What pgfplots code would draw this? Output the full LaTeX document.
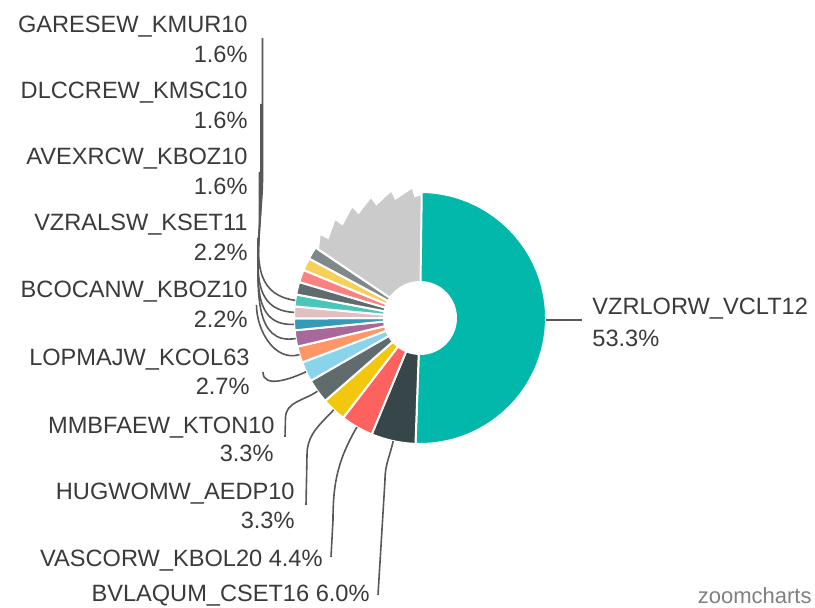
\documentclass[border=0pt]{standalone}
\usepackage{fontspec}
\setmainfont{Liberation Sans}
\usepackage{pgfplots}
\pgfplotsset{compat=1.18}
\usepackage{pgfplotstable}

\definecolor{c0}{HTML}{01B8AA}
\definecolor{c1}{HTML}{374649}
\definecolor{c2}{HTML}{FD625E}
\definecolor{c3}{HTML}{F2C80F}
\definecolor{c4}{HTML}{5F6B6D}
\definecolor{c5}{HTML}{8AD4EB}
\definecolor{c6}{HTML}{FE9666}
\definecolor{c7}{HTML}{A66999}
\definecolor{c8}{HTML}{3599B8}
\definecolor{c9}{HTML}{DFBFBF}
\definecolor{c10}{HTML}{4AC5BB}
\definecolor{c11}{HTML}{5F6B6D}
\definecolor{c12}{HTML}{FB8281}
\definecolor{c13}{HTML}{F4D25A}
\definecolor{c14}{HTML}{7F898A}
\definecolor{c15}{HTML}{CBCBCB}
\definecolor{txt}{HTML}{3A3A3A}
\definecolor{ln}{HTML}{585858}

% slice shares (percent), clockwise from 12 o'clock
\pgfplotstableread{
id pct
0 53.3
1 6.0
2 4.4
3 3.3
4 3.3
5 2.7
6 2.2
7 2.2
8 1.6
9 1.6
10 1.6
11 1.7
12 1.7
13 1.7
14 1.7
15 16.4
}\piedata

\pgfmathsetmacro\tot{0}
\pgfplotsforeachungrouped \i in {0,...,15}{%
  \pgfplotstablegetelem{\i}{pct}\of\piedata
  \pgfmathsetmacro\tot{\tot+\pgfplotsretval}%
}
\pgfmathsetmacro\cur{90}
\pgfplotsforeachungrouped \i in {0,...,15}{%
  \pgfplotstablegetelem{\i}{pct}\of\piedata
  \pgfmathsetmacro\nxt{\cur-\pgfplotsretval/\tot*360}%
  \pgfmathsetmacro\mda{(\cur+\nxt)/2}%
  \expandafter\xdef\csname sa\i\endcsname{\cur}%
  \expandafter\xdef\csname ea\i\endcsname{\nxt}%
  \expandafter\xdef\csname ma\i\endcsname{\mda}%
  \let\cur\nxt
}
\newcommand\SA[1]{\csname sa#1\endcsname}
\newcommand\EA[1]{\csname ea#1\endcsname}
\newcommand\MA[1]{\csname ma#1\endcsname}
\xdef\osa{\csname sa15\endcsname}
\xdef\oea{\csname ea15\endcsname}
\pgfmathsetmacro\ow{(\osa-\oea)/6}
\newcommand\lab{\fontsize{11.8}{14}\selectfont}

\begin{document}
\begin{tikzpicture}
\begin{axis}[hide axis, scale only axis, width=407.5pt, height=304pt,
  xmin=0, xmax=815, ymin=0, ymax=608, clip=false]
% slices
\pgfplotsinvokeforeach{0,...,14}{%
  \filldraw[fill=c#1, draw=white, line width=1pt]
    ([shift={(\SA{#1}:63pt)}]axis cs:420,290) arc[start angle=\SA{#1}, end angle=\EA{#1}, radius=63pt]
    -- ([shift={(\EA{#1}:18pt)}]axis cs:420,290) arc[start angle=\EA{#1}, end angle=\SA{#1}, radius=18pt] -- cycle;
}
% others slice with saw-tooth edge
\filldraw[fill=c15, draw=white, line width=1pt]
  ([shift={(\osa:18pt)}]axis cs:420,290) -- ([shift={(\osa:61.5pt)}]axis cs:420,290)
  \foreach \k in {0,...,5}{ -- ([shift={({\osa-\ow*(\k+0.65)}:65.5pt)}]axis cs:420,290)
                             -- ([shift={({\osa-\ow*(\k+0.65)-1}:61pt)}]axis cs:420,290) }
  -- ([shift={(\oea-0.8:62pt)}]axis cs:420,290) -- ([shift={(\oea-0.8:18pt)}]axis cs:420,290)
  arc[start angle=\oea-0.8, end angle=\osa, radius=18pt] -- cycle;

% leader lines
\begin{scope}[draw=ln, line width=0.8pt]
\draw (axis cs:262.5,570) -- (axis cs:262.5,430) to[out=-90, in=\MA{10}, looseness=1.1] ([shift={(\MA{10}:63pt)}]axis cs:420,290);
\draw (axis cs:261,504) -- (axis cs:261,410) to[out=-90, in=\MA{9}, looseness=1.1] ([shift={(\MA{9}:63pt)}]axis cs:420,290);
\draw (axis cs:259.5,436) -- (axis cs:259.5,388) to[out=-90, in=\MA{8}, looseness=1.1] ([shift={(\MA{8}:63pt)}]axis cs:420,290);
\draw (axis cs:258,370) -- (axis cs:258,360) to[out=-90, in=\MA{7}, looseness=1.1] ([shift={(\MA{7}:63pt)}]axis cs:420,290);
\draw (axis cs:256.5,303) to[out=-90, in=\MA{6}] ([shift={(\MA{6}:63pt)}]axis cs:420,290);
\draw (axis cs:263,236) to[out=-90, in=\MA{5}] ([shift={(\MA{5}:63pt)}]axis cs:420,290);
\draw ([shift={(\MA{4}:63pt)}]axis cs:420,290) to[out=\MA{4}, in=90] (axis cs:285.5,190) -- (axis cs:285,171);
\draw ([shift={(\MA{3}:63pt)}]axis cs:420,290) to[out=\MA{3}, in=90] (axis cs:307,153) -- (axis cs:306,103);
\draw ([shift={(\MA{2}:63pt)}]axis cs:420,290) to[out=\MA{2}, in=90] (axis cs:333,88) -- (axis cs:331,51);
\draw ([shift={(\MA{1}:63pt)}]axis cs:420,290) to[out=\MA{1}, in=90] (axis cs:385,128) -- (axis cs:378,13);
\draw ([shift={(\MA{0}:63pt)}]axis cs:420,290) -- ++(18pt,0);
\end{scope}

% labels
\begin{scope}[every node/.style={inner sep=0pt, text=txt, font=\lab}]
\node[anchor=base east] at (axis cs:248,575.7) {GARESEW\_KMUR10};
\node[anchor=base east] at (axis cs:248,545.7) {1.6\%};
\node[anchor=base east] at (axis cs:248,509.7) {DLCCREW\_KMSC10};
\node[anchor=base east] at (axis cs:248,479.7) {1.6\%};
\node[anchor=base east] at (axis cs:248,443) {AVEXRCW\_KBOZ10};
\node[anchor=base east] at (axis cs:248,413.7) {1.6\%};
\node[anchor=base east] at (axis cs:248,377) {VZRALSW\_KSET11};
\node[anchor=base east] at (axis cs:248,347) {2.2\%};
\node[anchor=base east] at (axis cs:248,310.5) {BCOCANW\_KBOZ10};
\node[anchor=base east] at (axis cs:248,280.5) {2.2\%};
\node[anchor=base east] at (axis cs:250,242) {LOPMAJW\_KCOL63};
\node[anchor=base east] at (axis cs:250,213) {2.7\%};
\node[anchor=base east] at (axis cs:275,174.7) {MMBFAEW\_KTON10};
\node[anchor=base east] at (axis cs:274,146.3) {3.3\%};
\node[anchor=base east] at (axis cs:295,108.7) {HUGWOMW\_AEDP10};
\node[anchor=base east] at (axis cs:295,79.7) {3.3\%};
\node[anchor=base east] at (axis cs:323,41.3) {VASCORW\_KBOL20 4.4\%};
\node[anchor=base east] at (axis cs:370,6.3) {BVLAQUM\_CSET16 6.0\%};
\node[anchor=base west] at (axis cs:592,293) {VZRLORW\_VCLT12};
\node[anchor=base west] at (axis cs:592,261.3) {53.3\%};
\node[anchor=base east, text=gray, font=\fontsize{11}{12}\selectfont] at (axis cs:812,4) {zoomcharts};
\end{scope}
\end{axis}
\pgfresetboundingbox
\path (current axis.south west) rectangle (current axis.north east);
\end{tikzpicture}
\end{document}
